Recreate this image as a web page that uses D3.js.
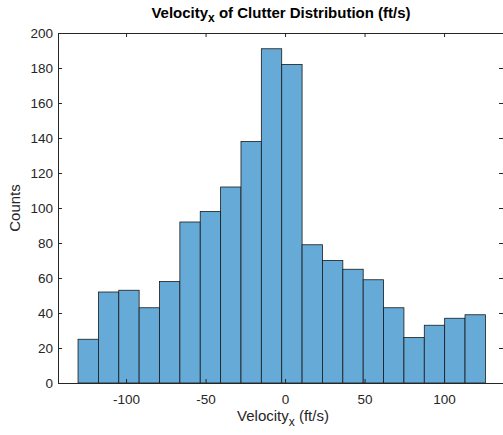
<!DOCTYPE html>
<html>
<head>
<meta charset="utf-8">
<script src="https://cdn.jsdelivr.net/npm/d3@7"></script>
<style>
  html, body { margin: 0; padding: 0; background: #fff; }
  svg { display: block; font-family: "Liberation Sans", Arial, Helvetica, sans-serif; }
</style>
</head>
<body>
<svg id="chart" width="503" height="435"></svg>
<script>
// Histogram bin edges (ft/s) and counts per bin
const binEdges = [-130.2, -117.39, -104.58, -91.77, -78.96, -66.15, -53.34, -40.53, -27.72,
  -14.91, -2.1, 10.71, 23.52, 36.33, 49.14, 61.95, 74.76, 87.57, 100.38, 113.19, 126.0];
const counts = [25, 52, 53, 43, 58, 92, 98, 112, 138, 191, 182, 79, 70, 65, 59, 43, 26, 33, 37, 39];
const xTicks = [-100, -50, 0, 50, 100];
const yTicks = [0, 20, 40, 60, 80, 100, 120, 140, 160, 180, 200];

const svg = d3.select("#chart");
const plotLeft = 58, plotRight = 504, plotTop = 33, plotBottom = 383;
const axisColor = "#262626";

const x = d3.scaleLinear().domain([-142.8, 137.7]).range([plotLeft, plotRight]);
const y = d3.scaleLinear().domain([0, 200]).range([plotBottom, plotTop]);

const bins = counts.map((c, i) => ({ x0: binEdges[i], x1: binEdges[i + 1], c }));

// Bars
svg.append("g").selectAll("rect").data(bins).join("rect")
  .attr("x", d => x(d.x0))
  .attr("y", d => y(d.c))
  .attr("width", d => x(d.x1) - x(d.x0))
  .attr("height", d => y(0) - y(d.c))
  .attr("fill", "#66aad7")
  .attr("stroke", "#1a1a1a")
  .attr("stroke-width", 0.8);

function styleAxis(g) {
  g.selectAll(".domain").attr("stroke", axisColor);
  g.selectAll(".tick line").attr("stroke", axisColor);
  g.selectAll(".tick text").attr("fill", axisColor).attr("font-size", 13.5);
}

// Bottom axis with inward ticks
svg.append("g").attr("transform", `translate(0,${plotBottom})`)
  .call(d3.axisBottom(x).tickValues(xTicks).tickSizeInner(-4).tickSizeOuter(0).tickPadding(11)
    .tickFormat(d => d < 0 ? "-" + Math.abs(d) : String(d)))
  .call(styleAxis);

// Top axis (ticks only)
svg.append("g").attr("transform", `translate(0,${plotTop})`)
  .call(d3.axisTop(x).tickValues(xTicks).tickSizeInner(-4).tickSizeOuter(0).tickFormat(""))
  .call(styleAxis);

// Left axis
svg.append("g").attr("transform", `translate(${plotLeft},0)`)
  .call(d3.axisLeft(y).tickValues(yTicks).tickSizeInner(-4).tickSizeOuter(0).tickPadding(5))
  .call(styleAxis);

// Right axis (ticks only)
svg.append("g").attr("transform", `translate(${plotRight - 1},0)`)
  .call(d3.axisRight(y).tickValues(yTicks).tickSizeInner(-4).tickSizeOuter(0).tickFormat(""))
  .call(styleAxis);

// Title
const title = svg.append("text")
  .attr("x", 281).attr("y", 18)
  .attr("text-anchor", "middle")
  .attr("font-size", 15).attr("font-weight", "bold").attr("fill", "#000");
title.append("tspan").text("Velocity");
title.append("tspan").attr("font-size", 12).attr("dy", 4).text("x");
title.append("tspan").attr("dy", -4).text(" of Clutter Distribution (ft/s)");

// X label
const xl = svg.append("text")
  .attr("x", 283).attr("y", 421)
  .attr("text-anchor", "middle")
  .attr("font-size", 15).attr("fill", axisColor);
xl.append("tspan").text("Velocity");
xl.append("tspan").attr("font-size", 12).attr("dy", 5).text("x");
xl.append("tspan").attr("dy", -5).text(" (ft/s)");

// Y label
svg.append("text")
  .attr("transform", `translate(20,${(plotTop + plotBottom) / 2}) rotate(-90)`)
  .attr("text-anchor", "middle")
  .attr("font-size", 15).attr("fill", axisColor)
  .text("Counts");
</script>
</body>
</html>
